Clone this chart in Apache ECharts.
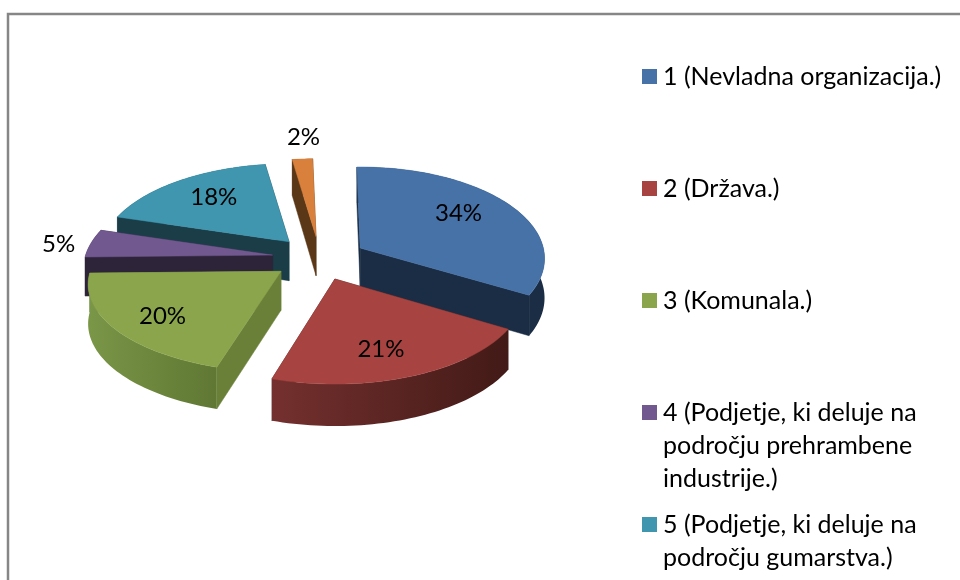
<!DOCTYPE html>
<html>
<head>
<meta charset="utf-8">
<style>html,body{margin:0;padding:0;background:#fff}#c{width:960px;height:580px}</style>
<script src="https://cdn.jsdelivr.net/npm/echarts@6/dist/echarts.min.js"></script>
</head>
<body>
<div id="c"></div>
<script>
const categories = [
  '1 (Nevladna organizacija.)',
  '2 (Država.)',
  '3 (Komunala.)',
  '4 (Podjetje, ki deluje na\npodročju prehrambene\nindustrije.)',
  '5 (Podjetje, ki deluje na\npodročju gumarstva.)',
  '6'
];
const values = [34, 21, 20, 5, 18, 2];

const topColors  = ['#4672A8', '#A74441', '#8AA54C', '#715990', '#3F96AE', '#D9813C'];
const cutColors  = ['#1A2D45', '#4A1D1A', '#6A8039', '#2E2439', '#1A3D48', '#5A3716'];
const wallStops  = [['#1A2D45', '#1A2D45'], ['#74302E', '#421A17'], ['#7A9647', '#5F7733'],
                    ['#2E2439', '#2E2439'], ['#1A3D48', '#1A3D48'], ['#5A3716', '#5A3716']];
const labelReach = [[0.627, 0.85], [0.66, 0.75], [0.733, 0.79], [1.19, 0.77], [0.68, 0.70], [1.27, 1.34]];
const rimWidth   = [0.975, 1, 1.02, 1, 1, 1];
const rimHeight  = [1, 1, 0.96, 1, 1, 1];
const rimLift    = [3, 0, 0, 0, 0, 0];
const paintOrder = [5, 4, 0, 3, 2, 1];

const FONT = 'Lato, Carlito, "Noto Sans", sans-serif';
const CX = 319, CY = 258.5, EX = 47, EY = 21.8, RX = 187, RY = 89.5, P = 0.148;
const TURN = -1.2 * Math.PI / 180;

const total = values.reduce((a, b) => a + b, 0);
const starts = values.map((_, i) => values.slice(0, i).reduce((a, b) => a + b, 0));

function project(apex, r, phi, w, h) {
  const a = Math.sin(phi), b = -Math.cos(phi);
  const s = 1 / (1 - P * b * r);
  return [apex[0] + RX * (w || 1) * r * a * s, apex[1] + RY * (h || 1) * r * b * s];
}
const down = (p, b) => [p[0], p[1] + 39 + 3 * b];
const cross = (o, p, q) => (p[0] - o[0]) * (q[1] - o[1]) - (p[1] - o[1]) * (q[0] - o[0]);

function renderSlice(i) {
  return function (params, api) {
    const v = api.value(0), st = api.value(1);
    const a0 = st / total * 2 * Math.PI + TURN, a1 = (st + v) / total * 2 * Math.PI + TURN;
    const m = (a0 + a1) / 2 - TURN;
    const apex = [CX + EX * Math.sin(m), CY - EY * Math.cos(m)];
    const arc = [], n = Math.max(3, Math.ceil((a1 - a0) / (Math.PI / 120)));
    for (let k = 0; k <= n; k++) arc.push(a0 + (a1 - a0) * k / n);
    const rim = arc.map(t => {
      const p = project(apex, 1, t, rimWidth[i], rimHeight[i]);
      return [p[0], p[1] - rimLift[i]];
    });
    const rimLow = arc.map((t, k) => down(rim[k], -Math.cos(t)));
    const apexLow = down(apex, 0);
    const inner = project(apex, 0.5, m, rimWidth[i], rimHeight[i]);
    const cut = (p, pl) => ({
      front: cross(apex, p, inner) * cross(apex, p, [apex[0], apex[1] + 10]) < 0,
      el: { type: 'polygon', shape: { points: [apex, p, pl, apexLow] },
            style: { fill: cutColors[i], stroke: cutColors[i], lineWidth: 0.5 } }
    });
    const cuts = [cut(rim[0], rimLow[0]), cut(rim[n], rimLow[n])];
    const wallFill = new echarts.graphic.LinearGradient(0, 0, 1, 0, [
      { offset: 0, color: wallStops[i][0] }, { offset: 1, color: wallStops[i][1] }
    ]);
    const lx = project(apex, labelReach[i][0], m)[0];
    const ly = project(apex, labelReach[i][1], m)[1];
    return {
      type: 'group',
      children: [
        ...cuts.filter(c => !c.front).map(c => c.el),
        { type: 'polygon', shape: { points: rim.concat(rimLow.slice().reverse()) }, style: { fill: wallFill } },
        ...cuts.filter(c => c.front).map(c => c.el),
        { type: 'polygon', shape: { points: [apex].concat(rim) },
          style: { fill: topColors[i], stroke: topColors[i], lineWidth: 0.5 } },
        { type: 'text', x: lx, y: ly, z2: 10,
          style: { text: Math.round(v) + '%', fill: '#000', font: '24px ' + FONT, align: 'center', verticalAlign: 'middle' } }
      ]
    };
  };
}

const LINE = 33;
const iconY = [76.5, 188.5, 300.5, 412.5, 524.5];

const chart = echarts.init(document.getElementById('c'), null, { renderer: 'canvas' });
chart.setOption({
  animation: false,
  backgroundColor: '#fff',
  graphic: [{ type: 'rect', silent: true, shape: { x: 8, y: 14, width: 1100, height: 1100 },
              style: { fill: 'none', stroke: '#868686', lineWidth: 2.5 } }],
  legend: categories.slice(0, 5).map((name, i) => {
    const lines = name.split('\n').length;
    return {
      data: [name], orient: 'vertical', left: 642,
      top: iconY[i] - (2 * lines - 1) * LINE / 2, padding: 0,
      selectedMode: false, icon: 'rect', itemWidth: 15, itemHeight: 15, itemGap: 0,
      // blank lines keep the marker level with the first line of a wrapped label
      formatter: n => '\n'.repeat(lines - 1) + n,
      textStyle: { color: '#000', fontFamily: FONT, fontSize: 25, lineHeight: LINE, padding: [0, 0, 0, 1] }
    };
  }),
  series: paintOrder.map(i => ({
    type: 'custom', name: categories[i], coordinateSystem: 'none',
    itemStyle: { color: topColors[i] }, silent: true,
    renderItem: renderSlice(i),
    data: [[values[i], starts[i]]]
  }))
});
</script>
</body>
</html>
